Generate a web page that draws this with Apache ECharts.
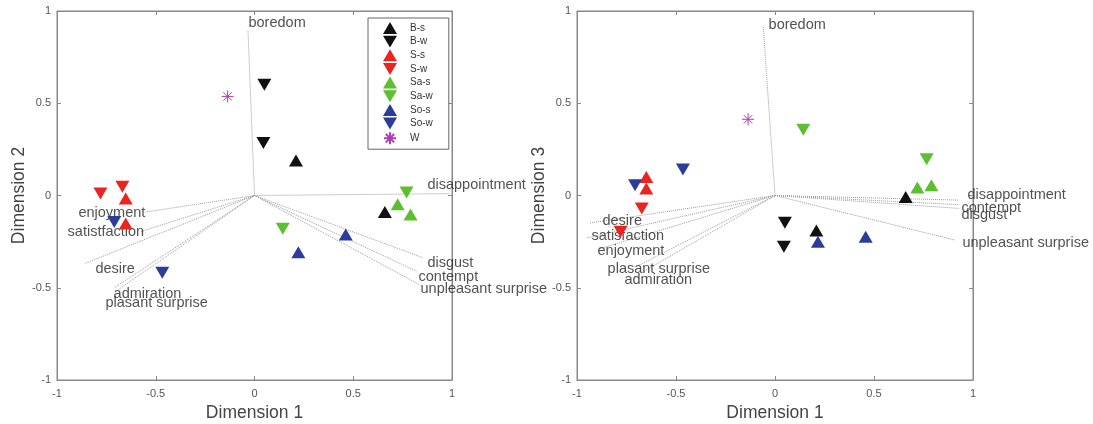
<!DOCTYPE html>
<html>
<head>
<meta charset="utf-8">
<script src="https://cdn.jsdelivr.net/npm/echarts@6/dist/echarts.min.js"></script>
<style>
  html, body { margin: 0; padding: 0; background: #fff; }
  #main { width: 1093px; height: 424px; }
</style>
</head>
<body>
<div id="main"></div>
<script>
// group names (legend order)
var groups = ["B-s", "B-w", "S-s", "S-w", "Sa-s", "Sa-w", "So-s", "So-w", "W"];

// points: Dimension 1 vs Dimension 2 (left plot)
var dim12 = {
  "B-s":  [[0.21, 0.19], [0.66, -0.09]],
  "B-w":  [[0.05, 0.60], [0.045, 0.285]],
  "S-s":  [[-0.652, -0.016], [-0.652, -0.152]],
  "S-w":  [[-0.78, 0.011], [-0.669, 0.047]],
  "Sa-s": [[0.725, -0.047], [0.79, -0.103]],
  "Sa-w": [[0.77, 0.016], [0.143, -0.18]],
  "So-s": [[0.462, -0.211], [0.222, -0.307]],
  "So-w": [[-0.71, -0.143], [-0.467, -0.419]],
  "W":    [[-0.136, 0.537]]
};

// points: Dimension 1 vs Dimension 3 (right plot)
var dim13 = {
  "B-s":  [[0.66, -0.008], [0.209, -0.19]],
  "B-w":  [[0.05, -0.148], [0.045, -0.278]],
  "S-s":  [[-0.65, 0.10], [-0.65, 0.038]],
  "S-w":  [[-0.673, -0.07], [-0.78, -0.197]],
  "Sa-s": [[0.719, 0.043], [0.79, 0.056]],
  "Sa-w": [[0.143, 0.357], [0.766, 0.197]],
  "So-s": [[0.217, -0.251], [0.458, -0.224]],
  "So-w": [[-0.707, 0.056], [-0.465, 0.141]],
  "W":    [[-0.136, 0.413]]
};

// emotion vectors (biplot loadings)
var vecNames12 = ["boredom", "disappointment", "disgust", "contempt", "unpleasant surprise",
  "enjoyment", "satistfaction", "desire", "admiration", "plasant surprise"];
var vecEnd12 = [[-0.033, 0.895], [0.99, 0.01], [0.85, -0.336], [0.82, -0.41], [0.84, -0.486],
  [-0.554, -0.09], [-0.58, -0.197], [-0.858, -0.368], [-0.69, -0.51], [-0.71, -0.5]];
var vecLabel12 = [[-0.033, 0.933], [0.873, 0.056], [0.873, -0.365], [0.828, -0.442], [0.838, -0.507],
  [-0.894, -0.094], [-0.949, -0.199], [-0.808, -0.399], [-0.716, -0.534], [-0.757, -0.583]];

var vecNames13 = ["boredom", "disappointment", "contempt", "disgust", "unpleasant surprise",
  "desire", "satisfaction", "enjoyment", "plasant surprise", "admiration"];
var vecEnd13 = [[-0.06, 0.92], [0.93, -0.025], [0.93, -0.05], [0.93, -0.07], [0.91, -0.242],
  [-0.94, -0.15], [-0.95, -0.23], [-0.89, -0.29], [-0.69, -0.38], [-0.66, -0.41]];
var vecLabel13 = [[-0.035, 0.922], [0.97, 0.002], [0.939, -0.069], [0.939, -0.107], [0.944, -0.257],
  [-0.874, -0.138], [-0.929, -0.219], [-0.899, -0.302], [-0.848, -0.399], [-0.763, -0.459]];

var colors = {
  "B": "#111111", "S": "#ec2420", "Sa": "#5cbf30", "So": "#2c3c9c", "W": "#b43cb4"
};
var UP = "triangle";
var DOWN = "path://M0,0L20,0L10,17Z";
var STAR = "path://M5,0L5,10M0,5L10,5M1.5,1.5L8.5,8.5M8.5,1.5L1.5,8.5";

var chart = echarts.init(document.getElementById("main"));
var FONT = "Liberation Sans";

function makeGridAxes(gridIndex, yName, yGap) {
  var base = {
    gridIndex: gridIndex, type: "value", min: -1, max: 1, interval: 0.5,
    axisLine: { show: true, onZero: false, lineStyle: { color: "#888", width: 1 } },
    axisTick: { show: true, inside: true, length: 4, lineStyle: { color: "#888" } },
    splitLine: { show: false }
  };
  var xb = Object.assign({}, base, {
    position: "bottom",
    axisLabel: { color: "#555", fontSize: 11, fontFamily: FONT, margin: 8 },
    name: "Dimension 1", nameLocation: "middle", nameGap: 22,
    nameTextStyle: { color: "#444", fontSize: 17.5, fontFamily: FONT }
  });
  var xt = Object.assign({}, base, { position: "top", axisLabel: { show: false } });
  var yl = Object.assign({}, base, {
    position: "left",
    axisLabel: { color: "#555", fontSize: 11, fontFamily: FONT, margin: 6 },
    name: yName, nameLocation: "middle", nameGap: yGap,
    nameTextStyle: { color: "#444", fontSize: 17.5, fontFamily: FONT }
  });
  var yr = Object.assign({}, base, { position: "right", axisLabel: { show: false } });
  return { x: [xb, xt], y: [yl, yr] };
}

var a0 = makeGridAxes(0, "Dimension 2", 28);
var a1 = makeGridAxes(1, "Dimension 3", 29);

function symbolFor(g) {
  if (g === "W") return STAR;
  return g.slice(-1) === "s" ? UP : DOWN;
}
function colorFor(g) {
  return colors[g.split("-")[0]];
}

var series = [];

function addBiplot(axisIdx, names, ends, labels) {
  series.push({
    type: "lines", coordinateSystem: "cartesian2d",
    xAxisIndex: axisIdx, yAxisIndex: axisIdx, silent: true, z: 1,
    lineStyle: { color: "#9a9a9a", width: 1, type: "dotted", opacity: 1 },
    data: ends.map(function (e) { return { coords: [[0, 0], e] }; })
  });
  series.push({
    type: "scatter", xAxisIndex: axisIdx, yAxisIndex: axisIdx, silent: true, z: 2,
    symbolSize: 1, itemStyle: { color: "rgba(0,0,0,0)" },
    label: {
      show: true, position: "right", distance: 0, formatter: "{b}",
      color: "#262626", fontSize: 14.5, fontFamily: FONT
    },
    data: labels.map(function (p, i) { return { name: names[i], value: p }; })
  });
}
addBiplot(0, vecNames12, vecEnd12, vecLabel12);
addBiplot(2, vecNames13, vecEnd13, vecLabel13);

function addPoints(axisIdx, table) {
  groups.forEach(function (g) {
    var isStar = g === "W";
    series.push({
      name: g, type: "scatter", xAxisIndex: axisIdx, yAxisIndex: axisIdx, z: 5,
      symbol: symbolFor(g),
      symbolSize: isStar ? 12 : [14, 12],
      itemStyle: isStar
        ? { color: "rgba(0,0,0,0)", borderColor: colorFor(g), borderWidth: 1, opacity: 1 }
        : { color: colorFor(g), opacity: 1 },
      data: table[g]
    });
  });
}
addPoints(0, dim12);
addPoints(2, dim13);

chart.setOption({
  animation: false,
  grid: [
    { left: 57, top: 11, width: 395, height: 369, show: true, borderColor: "#888", borderWidth: 1,
      outerBoundsMode: "none", containLabel: false },
    { left: 577, top: 11, width: 396, height: 369, show: true, borderColor: "#888", borderWidth: 1,
      outerBoundsMode: "none", containLabel: false }
  ],
  xAxis: a0.x.concat(a1.x),
  yAxis: a0.y.concat(a1.y),
  legend: {
    data: groups, orient: "vertical", left: 368, top: 18,
    padding: [4, 16, 4, 15], itemWidth: 14, itemHeight: 12, itemGap: 1.7,
    borderColor: "#666", borderWidth: 1, backgroundColor: "#fff",
    selectedMode: false,
    textStyle: { fontSize: 10, color: "#333", fontFamily: FONT, padding: [0, 0, 0, 8] }
  },
  series: series
});
</script>
</body>
</html>
